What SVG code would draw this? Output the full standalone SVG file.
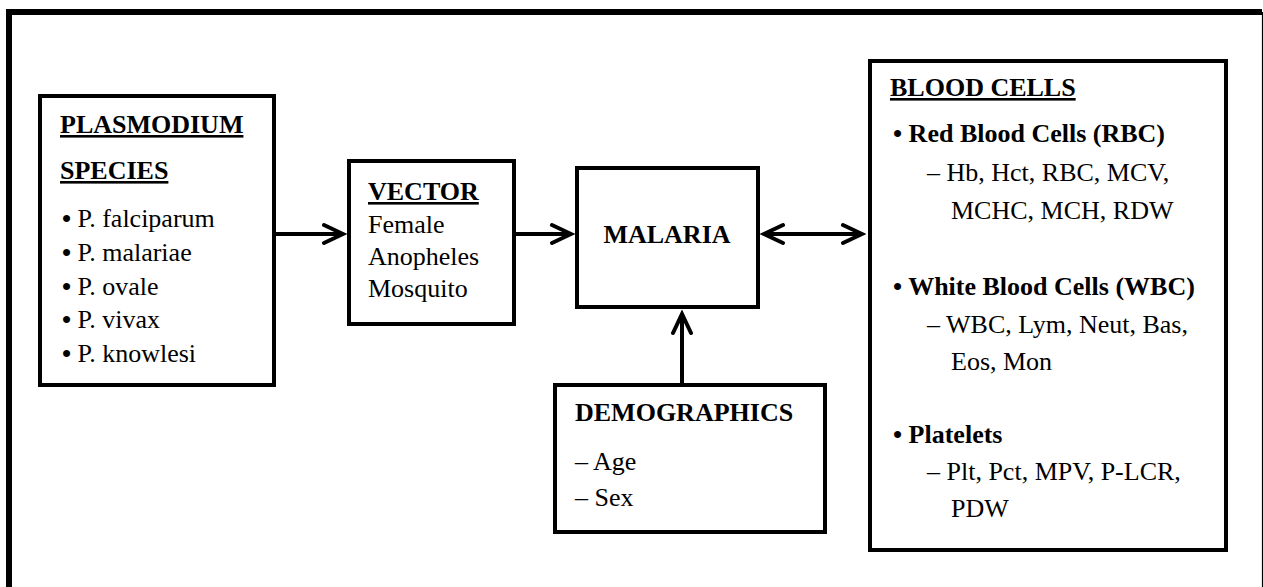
<svg xmlns="http://www.w3.org/2000/svg" width="1263" height="587" viewBox="0 0 1263 587">
<style>
  text { font-family: "Liberation Serif", "Times New Roman", serif; font-size: 26px; fill: #000; }
  .b { font-weight: bold; }
  .u { text-decoration: underline; }
  .box { fill: #fff; stroke: #000; stroke-width: 4; }
  .conn { stroke: #000; stroke-width: 4; fill: none; }
</style>
<defs>
  <marker id="arr" viewBox="-24 -12 28 24" refX="0" refY="0" markerWidth="28" markerHeight="24" markerUnits="userSpaceOnUse" orient="auto-start-reverse">
    <path d="M-19,-9 L0,0 L-19,9" fill="none" stroke="#000" stroke-width="4" stroke-linejoin="miter" stroke-linecap="round"/>
  </marker>
</defs>
<rect x="0" y="0" width="1263" height="587" fill="#fff"/>
<g id="frame">
  <path d="M9,587 V12 H1262" fill="none" stroke="#000" stroke-width="6"/>
  <line x1="1262.5" y1="12" x2="1262.5" y2="587" stroke="#000" stroke-width="1.2"/>
</g>
<g id="connectors">
  <line class="conn" x1="276" y1="234" x2="343" y2="234" marker-end="url(#arr)"/>
  <line class="conn" x1="516" y1="234" x2="571" y2="234" marker-end="url(#arr)"/>
  <line class="conn" x1="764" y1="234" x2="862" y2="234" marker-start="url(#arr)" marker-end="url(#arr)"/>
  <line class="conn" x1="682" y1="383" x2="682" y2="314" marker-end="url(#arr)"/>
</g>
<g id="plasmodium">
  <rect class="box" x="40" y="96" width="234" height="289"/>
  <text class="b u" x="60" y="133">PLASMODIUM</text>
  <text class="b u" x="60" y="179">SPECIES</text>
  <text x="62" y="227"><tspan class="b">•</tspan> P. falciparum</text>
  <text x="62" y="261"><tspan class="b">•</tspan> P. malariae</text>
  <text x="62" y="295"><tspan class="b">•</tspan> P. ovale</text>
  <text x="62" y="328"><tspan class="b">•</tspan> P. vivax</text>
  <text x="62" y="362"><tspan class="b">•</tspan> P. knowlesi</text>
</g>
<g id="vector">
  <rect class="box" x="349" y="161" width="165" height="163"/>
  <text class="b u" x="368" y="200">VECTOR</text>
  <text x="368" y="233">Female</text>
  <text x="368" y="265">Anopheles</text>
  <text x="368" y="297">Mosquito</text>
</g>
<g id="malaria">
  <rect class="box" x="577" y="168" width="181" height="139"/>
  <text class="b" x="667" y="243" text-anchor="middle">MALARIA</text>
</g>
<g id="demographics">
  <rect class="box" x="555" y="385" width="270" height="147"/>
  <text class="b" x="575" y="421">DEMOGRAPHICS</text>
  <text x="575" y="470">– Age</text>
  <text x="575" y="506">– Sex</text>
</g>
<g id="bloodcells">
  <rect class="box" x="870" y="61" width="356" height="489"/>
  <text class="b u" x="890" y="96">BLOOD CELLS</text>
  <text class="b" x="893" y="142">• Red Blood Cells (RBC)</text>
  <text x="927" y="181">– Hb, Hct, RBC, MCV,</text>
  <text x="951" y="219">MCHC, MCH, RDW</text>
  <text class="b" x="893" y="295">• White Blood Cells (WBC)</text>
  <text x="927" y="333">– WBC, Lym, Neut, Bas,</text>
  <text x="951" y="370">Eos, Mon</text>
  <text class="b" x="893" y="443">• Platelets</text>
  <text x="927" y="480">– Plt, Pct, MPV, P-LCR,</text>
  <text x="951" y="517">PDW</text>
</g>
</svg>
